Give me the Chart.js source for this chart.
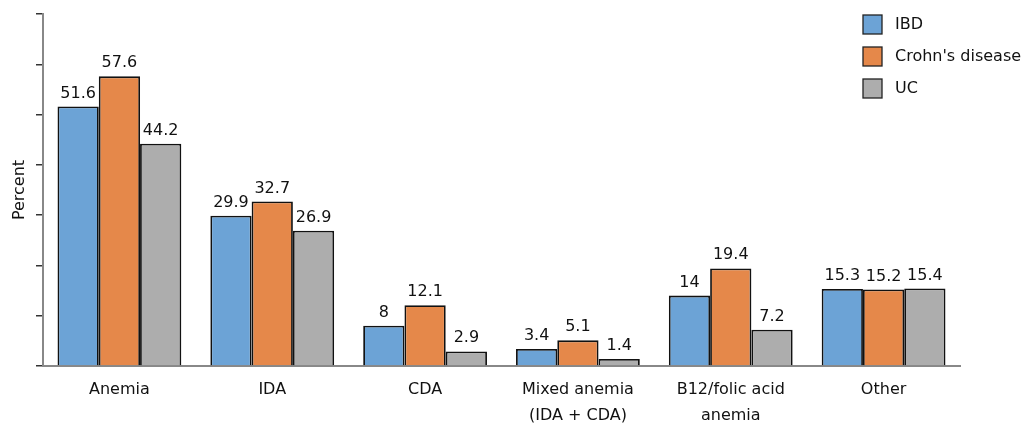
<!DOCTYPE html>
<html>
<head>
<meta charset="utf-8">
<title>Anemia types in IBD</title>
<script src="https://cdn.jsdelivr.net/npm/chart.js@4.4.1/dist/chart.umd.min.js"></script>
<style>
  html, body { margin: 0; padding: 0; background: #fff; }
  #wrap { width: 1023px; height: 427px; position: relative; }
</style>
</head>
<body>
<div id="wrap"><canvas id="anemiaChart"></canvas></div>
<script>
// data
const categories = ['Anemia', 'IDA', 'CDA', ['Mixed anemia', '(IDA + CDA)'], ['B12/folic acid', 'anemia'], 'Other'];
const ibdValues = [51.6, 29.9, 8, 3.4, 14, 15.3];
const crohnValues = [57.6, 32.7, 12.1, 5.1, 19.4, 15.2];
const ucValues = [44.2, 26.9, 2.9, 1.4, 7.2, 15.4];
const seriesNames = ['IBD', "Crohn's disease", 'UC'];
const seriesColors = ['#6CA3D6', '#E5884A', '#ADADAD'];

const FONT = 'DejaVu Sans';

/* value labels above each bar */
const valueLabels = {
  id: 'valueLabels',
  afterDatasetsDraw(chart) {
    const ctx = chart.ctx;
    ctx.save();
    ctx.font = `16px "${FONT}"`;
    ctx.fillStyle = '#111';
    ctx.textAlign = 'center';
    ctx.textBaseline = 'alphabetic';
    chart.data.datasets.forEach((ds, i) => {
      chart.getDatasetMeta(i).data.forEach((bar, j) => {
        ctx.fillText(String(ds.data[j]), bar.x, bar.y - 9);
      });
    });
    ctx.restore();
  },
};

/* legend in the top-right corner */
const cornerLegend = {
  id: 'cornerLegend',
  afterDraw(chart) {
    const ctx = chart.ctx;
    ctx.save();
    ctx.font = `16px "${FONT}"`;
    ctx.textBaseline = 'middle';
    ctx.textAlign = 'left';
    chart.data.datasets.forEach((ds, i) => {
      const y = 15 + i * 32;
      ctx.fillStyle = ds.backgroundColor;
      ctx.fillRect(863, y, 19, 19);
      ctx.strokeStyle = '#222';
      ctx.lineWidth = 1.3;
      ctx.strokeRect(863, y, 19, 19);
      ctx.fillStyle = '#111';
      ctx.fillText(ds.label, 895, y + 10);
    });
    ctx.restore();
  },
};

function initAnemiaChart() {
  const el = document.getElementById('anemiaChart');
  const series = [ibdValues, crohnValues, ucValues];

  new Chart(el, {
    type: 'bar',
    data: {
      labels: categories,
      datasets: series.map((data, i) => ({
        label: seriesNames[i],
        data,
        backgroundColor: seriesColors[i],
        borderColor: '#111',
        borderWidth: 1.8,
        categoryPercentage: 0.81,
        barPercentage: 1.0,
      })),
    },
    options: {
      responsive: true,
      maintainAspectRatio: false,
      animation: false,
      layout: { padding: { top: 14, right: 63, left: 0, bottom: 0 } },
      plugins: {
        legend: { display: false },
        tooltip: { enabled: false },
      },
      scales: {
        x: {
          grid: { display: false, drawTicks: false },
          border: { display: true, color: '#888', width: 2 },
          ticks: {
            color: '#111',
            padding: 11,
            maxRotation: 0,
            autoSkip: false,
            font: { family: FONT, size: 16, lineHeight: 1.6 },
          },
          afterFit(scale) { scale.height = 61; },
        },
        y: {
          min: 0,
          max: 70,
          ticks: { display: false, stepSize: 10 },
          grid: {
            drawOnChartArea: false,
            drawTicks: true,
            tickLength: 7,
            color: '#333',
            lineWidth: 1.5,
          },
          border: { display: true, color: '#888', width: 2 },
          title: {
            display: true,
            text: 'Percent',
            color: '#111',
            font: { family: FONT, size: 16 },
            padding: { top: 10, bottom: 0 },
          },
          afterFit(scale) { scale.width = 43; },
        },
      },
    },
    plugins: [valueLabels, cornerLegend],
  });
}

initAnemiaChart();
</script>
</body>
</html>
